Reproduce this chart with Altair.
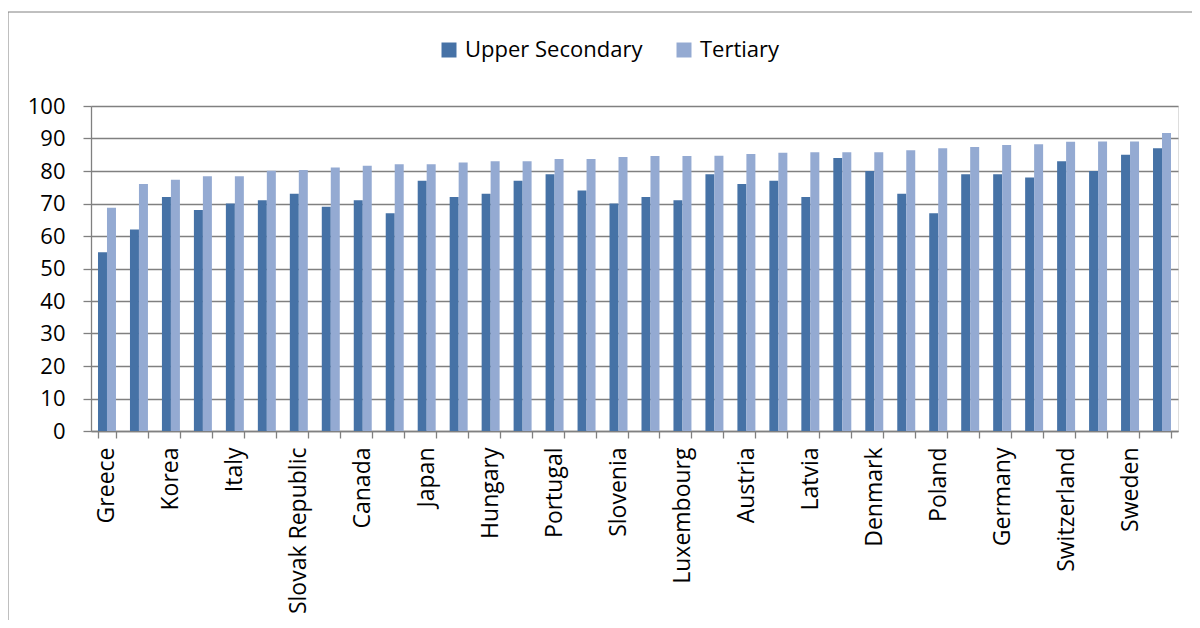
import altair as alt
import pandas as pd

countries = ["Greece", "Turkey", "Korea", "Spain", "Italy", "Ireland", "Slovak Republic",
             "Chile", "Canada", "Czech Republic", "Japan", "Mexico", "Hungary",
             "United States", "Portugal", "France", "Slovenia", "Belgium", "Luxembourg",
             "Estonia", "Austria", "Finland", "Latvia", "Israel", "Denmark", "Australia",
             "Poland", "United Kingdom", "Germany", "New Zealand", "Switzerland",
             "Netherlands", "Sweden", "Iceland"]
upper_secondary = [55, 62, 72, 68, 70, 71, 73, 69, 71, 67,
                   77, 72, 73, 77, 79, 74, 70, 72, 71, 79,
                   76, 77, 72, 84, 80, 73, 67, 79, 79, 78,
                   83, 80, 85, 87]
tertiary = [68.7, 76.0, 77.3, 78.4, 78.4, 80.1, 80.3, 81.1, 81.6, 82.1,
            82.1, 82.6, 83.0, 83.0, 83.7, 83.7, 84.3, 84.6, 84.6, 84.7,
            85.2, 85.6, 85.8, 85.8, 85.8, 86.4, 87.0, 87.4, 88.0, 88.2,
            89.0, 89.1, 89.1, 91.7]
series_names = ["Upper Secondary", "Tertiary"]
series_colors = ["#4672A6", "#94AAD2"]
y_ticks = list(range(0, 101, 10))
shown_labels = countries[::2]

rows = []
for c, u, t in zip(countries, upper_secondary, tertiary):
    rows.append({"country": c, "series": series_names[0], "value": u})
    rows.append({"country": c, "series": series_names[1], "value": t})
df = pd.DataFrame(rows)

FONT = "Open Sans"
GRAY = "#808080"

label_expr = "indexof([" + ",".join("'" + s + "'" for s in shown_labels) + "], datum.value) >= 0 ? datum.value : ''"

bars = alt.Chart(df).mark_bar().encode(
    x=alt.X("country:N", sort=countries,
            scale=alt.Scale(paddingInner=0.4375, paddingOuter=0.21875),
            axis=alt.Axis(title=None, labelAngle=-90, labelExpr=label_expr,
                          tickBand="extent", tickSize=7, labelPadding=9,
                          labelFontSize=23, labelFont=FONT, labelColor="black",
                          domainColor=GRAY, tickColor=GRAY, domainWidth=1.3,
                          tickWidth=1.3, grid=False, labelOverlap=False,
                          labelLimit=0)),
    xOffset=alt.XOffset("series:N", sort=series_names,
                        scale=alt.Scale(paddingInner=0, paddingOuter=0)),
    y=alt.Y("value:Q", scale=alt.Scale(domain=[0, 100], nice=False),
            axis=alt.Axis(title=None, values=y_ticks, tickSize=8, labelPadding=18,
                          labelFontSize=22, labelFont=FONT, labelColor="black",
                          domainColor=GRAY, tickColor=GRAY, gridColor=GRAY,
                          gridWidth=1.3, domainWidth=1.3, tickWidth=1.3,
                          grid=True)),
    color=alt.Color("series:N", sort=series_names,
                    scale=alt.Scale(domain=series_names, range=series_colors),
                    legend=alt.Legend(title=None, orient="none", legendX=347, legendY=-67,
                                      direction="horizontal", symbolType="square",
                                      symbolSize=225, symbolStrokeWidth=0,
                                      labelFontSize=22, labelFont=FONT, labelColor="black",
                                      labelLimit=0, columnPadding=30, labelOffset=5)),
)

frame_data = alt.Data(values=[{"k": 1}])
frame_v = alt.Chart(frame_data).mark_rule(color=GRAY, strokeWidth=1).encode(
    x=alt.value(-83), y=alt.value(-94), y2=alt.value(530))
frame_h = alt.Chart(frame_data).mark_rule(color=GRAY, strokeWidth=1).encode(
    x=alt.value(-83), x2=alt.value(1110), y=alt.value(-94))

chart = alt.layer(frame_v, frame_h, bars).properties(
    width=1087, height=325,
    padding={"left": 83, "top": 98, "right": 14, "bottom": 189},
    autosize=alt.AutoSizeParams(type="none"),
).configure_view(stroke=None).configure(background="white")

chart.save("out.html", embed_options={"renderer": "svg", "actions": False})
